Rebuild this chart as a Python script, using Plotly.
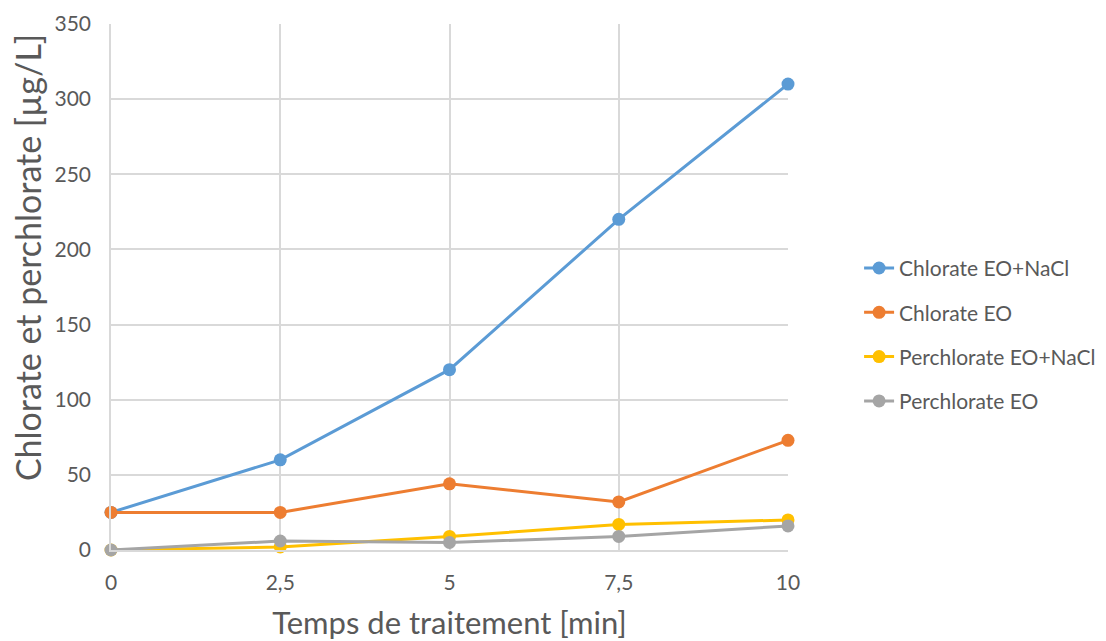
import plotly.graph_objects as go

# Treatment time (min) and measured concentrations (µg/L)
temps = [0, 2.5, 5, 7.5, 10]
temps_labels = ["0", "2,5", "5", "7,5", "10"]
chlorate_eo_nacl = [25, 60, 120, 220, 310]
chlorate_eo = [25, 25, 44, 32, 73]
perchlorate_eo_nacl = [0, 2, 9, 17, 20]
perchlorate_eo = [0, 6, 5, 9, 16]

series = [
    ("Chlorate EO+NaCl", chlorate_eo_nacl, "#5b9bd5"),
    ("Chlorate EO", chlorate_eo, "#ed7d31"),
    ("Perchlorate EO+NaCl", perchlorate_eo_nacl, "#ffc000"),
    ("Perchlorate EO", perchlorate_eo, "#a5a5a5"),
]

fig = go.Figure()
for i, (name, vals, color) in enumerate(series):
    fig.add_trace(go.Scatter(
        x=temps, y=vals, name=name, mode="lines+markers",
        line=dict(color=color, width=3),
        marker=dict(color=color, size=13),
        legendgroup=f"g{i}", cliponaxis=False,
    ))

text_color = "#595959"
grid_color = "#d9d9d9"
font_family = "Lato, Open Sans, sans-serif"

fig.update_layout(
    width=1106, height=641,
    margin=dict(l=111, r=318, t=24, b=91, autoexpand=False),
    plot_bgcolor="white", paper_bgcolor="white",
    font=dict(family=font_family, color=text_color, size=21),
    legend=dict(
        x=1.105, y=0.409, xanchor="left", yanchor="middle",
        font=dict(size=21, color=text_color, family=font_family),
        traceorder="grouped", tracegroupgap=14,
    ),
    xaxis=dict(
        range=[0, 10], tickvals=temps, ticktext=temps_labels,
        tickfont=dict(size=21),
        showgrid=True, gridcolor=grid_color, gridwidth=1.5,
        showline=True, linecolor=grid_color, linewidth=1.5,
        zeroline=False, ticks="", ticklabelstandoff=13,
        title=dict(text="Temps de traitement [min]", font=dict(size=31, color=text_color), standoff=20),
    ),
    yaxis=dict(
        range=[0, 350], tickvals=[0, 50, 100, 150, 200, 250, 300, 350],
        tickfont=dict(size=21),
        showgrid=True, gridcolor=grid_color, gridwidth=1.5,
        showline=True, linecolor=grid_color, linewidth=1.5,
        zeroline=False, ticks="", ticklabelstandoff=14,
    ),
)

# Vertical axis title, placed slightly above the plot-area centre
fig.add_annotation(
    text="Chlorate et perchlorate [µg/L]", textangle=-90,
    xref="paper", yref="paper", x=-0.124, y=0.555,
    xanchor="center", yanchor="middle", showarrow=False,
    font=dict(size=34, color=text_color, family=font_family),
)

fig.write_html("out.html")
